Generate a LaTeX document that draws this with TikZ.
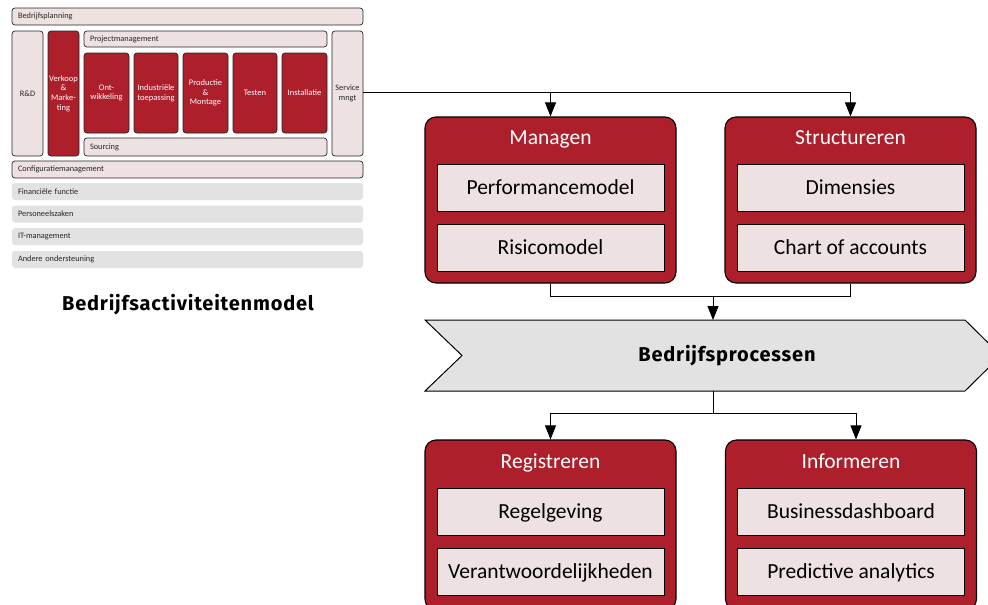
\documentclass[tikz,border=0pt]{standalone}
\usepackage{fontspec}
\setmainfont{Carlito}
\newfontfamily\widebold[LetterSpace=4]{Fira Sans}
\usetikzlibrary{arrows.meta}
\definecolor{bred}{HTML}{AD1F2A}
\definecolor{bpink}{HTML}{EEE1E2}
\definecolor{bgray}{HTML}{E1E2E1}
\begin{document}
\begin{tikzpicture}[x=1pt,y=-1pt,
  sbox/.style={draw=black!85,line width=0.7pt,rounded corners=3pt,inner sep=0pt,font=\fontsize{8.3}{9.3}\selectfont,align=center},
  pinkbox/.style={sbox,fill=bpink,text=black!85},
  redbox/.style={sbox,fill=bred,text=white,font=\fontsize{8.5}{9.6}\selectfont},
  barbox/.style={pinkbox,minimum height=17pt,text width=339pt,inner xsep=6pt,align=left,minimum width=351pt},
  graybar/.style={barbox,draw=none,fill=bgray},
  bigbox/.style={draw=black,line width=1.1pt,fill=bred,rounded corners=11pt,minimum width=251pt,inner sep=0pt},
  inbox/.style={draw=black,line width=1pt,fill=bpink,minimum width=227pt,minimum height=47pt,inner sep=0pt,font=\fontsize{21.5}{24}\selectfont,text height=13.8pt,text depth=0pt},
  ttl/.style={text=white,font=\fontsize{21.5}{24}\selectfont,inner sep=0pt,text height=13.8pt,text depth=0pt},
  boldlbl/.style={font=\fontsize{20}{23}\widebold\bfseries,inner sep=0pt,text height=13.5pt,text depth=0pt},
  conn/.style={line width=0.9pt,black},
  arr/.style={conn,-{Triangle[width=11pt,length=14pt]}}]
\useasboundingbox (0,0) rectangle (988,605);
\fill[white] (0,0) rectangle (988,605);
% ---------- left panel ----------
\node[barbox] (bp) at (187.5,16.5) {Bedrijfsplanning};
\node[pinkbox,minimum width=31pt,minimum height=125pt] (rd) at (27.5,93.5) {R\&D};
\node[redbox,minimum width=31pt,minimum height=125pt] (vm) at (63.5,93.5) {Verkoop\\\&\\Marke-\\ting};
\node[pinkbox,minimum width=243pt,minimum height=16pt,text width=231pt,inner xsep=6pt,align=left] (pm) at (205.5,39) {Projectmanagement};
\node[redbox,minimum width=45pt,minimum height=80pt] (ow) at (106.5,93) {Ont-\\wikkeling};
\node[redbox,minimum width=44pt,minimum height=80pt] (itp) at (156,93) {Industriële\\toepassing};
\node[redbox,minimum width=45pt,minimum height=80pt] (pr) at (205.5,93) {Productie\\\&\\Montage};
\node[redbox,minimum width=44pt,minimum height=80pt] (te) at (255,93) {Testen};
\node[redbox,minimum width=45pt,minimum height=80pt] (ins) at (304.5,93) {Installatie};
\node[pinkbox,minimum width=243pt,minimum height=18pt,text width=231pt,inner xsep=6pt,align=left] (so) at (205.5,147) {Sourcing};
\node[pinkbox,minimum width=31pt,minimum height=125pt] (sm) at (347.5,93.5) {Service\\mngt};
\node[barbox] (cm) at (187.5,169.5) {Configuratiemanagement};
\node[graybar] (ff) at (187.5,191.5) {Financiële functie};
\node[graybar] (pz) at (187.5,214) {Personeelszaken};
\node[graybar] (itm) at (187.5,236.5) {IT-management};
\node[graybar] (ao) at (187.5,259.5) {Andere ondersteuning};
\node[boldlbl] (bam) at (188,303.5) {Bedrijfsactiviteitenmodel};
% ---------- top boxes ----------
\node[bigbox,minimum height=166pt] (mg) at (550.5,200) {};
\node[ttl] (mgt) at (550.5,137.5) {Managen};
\node[inbox] (pf) at (550.5,187.5) {Performancemodel};
\node[inbox] (rm) at (550.5,247.5) {Risicomodel};
\node[bigbox,minimum height=166pt] (st) at (850.5,200) {};
\node[ttl] (stt) at (850.5,137.5) {Structureren};
\node[inbox] (dm) at (850.5,187.5) {Dimensies};
\node[inbox] (ca) at (850.5,247.5) {Chart of accounts};
% ---------- chevron ----------
\draw[line width=1pt,fill=bgray] (425,320) -- (965,320) -- (1001,355.5) -- (965,391) -- (425,391) -- (462,355.5) -- cycle;
\node[boldlbl] (proc) at (727,355) {Bedrijfsprocessen};
\coordinate (chevtop) at (713,320);
\coordinate (chevbot) at (713,391);
% ---------- bottom boxes ----------
\node[bigbox,minimum height=170pt] (rg) at (550.5,525) {};
\node[ttl] (rgt) at (550.5,462) {Registreren};
\node[inbox] (rgv) at (550.5,511.5) {Regelgeving};
\node[inbox] (vw) at (550.5,571.5) {Verantwoordelijkheden};
\node[bigbox,minimum height=170pt] (inf) at (851,525) {};
\node[ttl] (inft) at (851,462) {Informeren};
\node[inbox] (bd) at (851,511.5) {Businessdashboard};
\node[inbox] (pa) at (851,571.5) {Predictive analytics};
% ---------- connectors ----------
\coordinate (jm) at (550.5,92);
\coordinate (js) at (850.5,92);
\draw[conn] ([yshift=1.5pt]sm.east) -- (js);
\draw[arr] (jm) -- (mg.north);
\draw[arr] (js) -- (st.north);
\coordinate (b1) at (550.5,296);
\coordinate (b2) at (850.5,296);
\coordinate (b3) at (713,296);
\draw[conn] (mg.south) -- (b1) -- (b2) -- (st.south);
\draw[arr] (b3) -- (chevtop);
\coordinate (c1) at (550.5,413);
\coordinate (c2) at (856,413);
\coordinate (c3) at (713,413);
\draw[conn] (chevbot) -- (c3);
\draw[conn] (c1) -- (c2);
\draw[arr] (c1) -- (rg.north);
\draw[arr] (c2) -- ([xshift=5pt]inf.north);
\end{tikzpicture}
\end{document}
